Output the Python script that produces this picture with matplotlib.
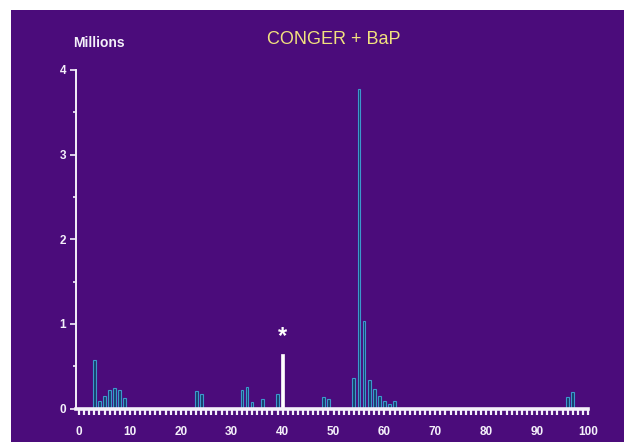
import matplotlib
matplotlib.use("Agg")
import matplotlib.pyplot as plt
from matplotlib.patches import Rectangle
from matplotlib.ticker import MultipleLocator

# Ion abundance (millions) against scan position
positions = [3, 4, 5, 6, 7, 8, 9, 23, 24, 32, 33, 34, 36, 39, 48, 49,
             54, 55, 56, 57, 58, 59, 60, 61, 62, 96, 97]
values = [0.57, 0.09, 0.15, 0.22, 0.24, 0.22, 0.12, 0.21, 0.17, 0.22, 0.25,
          0.08, 0.11, 0.17, 0.13, 0.11, 0.36, 3.77, 1.03, 0.34, 0.23, 0.15,
          0.09, 0.05, 0.09, 0.13, 0.19]
marked_position = 40
marked_value = 0.64

title = "CONGER + BaP"
y_unit = "Millions"
x_ticks = list(range(0, 101, 10))
y_ticks = [0, 1, 2, 3, 4]

W, H = 624, 442
BG = "#4b0c7b"
FG = "#f4f0fa"

plt.rcParams["font.family"] = ["Liberation Sans", "DejaVu Sans"]
fig = plt.figure(figsize=(W / 100, H / 100), dpi=100)
fig.patch.set_facecolor(BG)

# white margin along the top and left edges of the slide
fig.add_artist(Rectangle((0, 1 - 10 / H), 1, 10 / H, transform=fig.transFigure,
                         facecolor="white", edgecolor="none", zorder=0))
fig.add_artist(Rectangle((0, 0), 11 / W, 1, transform=fig.transFigure,
                         facecolor="white", edgecolor="none", zorder=0))

left_px, right_px = 76, 588
bottom_px, top_px = 408.5, 70
ax = fig.add_axes([left_px / W, (H - bottom_px) / H,
                   (right_px - left_px) / W, (bottom_px - top_px) / H])
ax.set_facecolor("none")
ax.set_xlim(-0.6, 100)
ax.set_ylim(0, 4)

ax.bar(positions, values, width=0.55, color="#163f6a", edgecolor="#3c98cc",
       linewidth=0.8, zorder=3)
ax.bar([marked_position], [marked_value], width=0.45, color="white",
       edgecolor="white", linewidth=0.5, zorder=3)
ax.text(marked_position, marked_value + 0.08, "*", color="white",
        ha="center", va="bottom", fontsize=17, fontweight="bold")

for side in ("top", "right"):
    ax.spines[side].set_visible(False)
ax.spines["left"].set_color(FG)
ax.spines["left"].set_linewidth(1.4)
ax.spines["left"].set_bounds(0, 4)
ax.spines["bottom"].set_color(FG)
ax.spines["bottom"].set_linewidth(2.6)
ax.spines["bottom"].set_zorder(4)

ax.set_xticks(x_ticks)
ax.set_xticklabels([str(t) for t in x_ticks])
ax.xaxis.set_minor_locator(MultipleLocator(1))
ax.tick_params(axis="x", which="both", direction="out", length=4.5,
               width=1.6, color=FG, labelcolor=FG, labelsize=8.5, pad=8)

ax.set_yticks(y_ticks)
ax.set_yticklabels([str(t) for t in y_ticks])
ax.yaxis.set_minor_locator(MultipleLocator(0.5))
ax.tick_params(axis="y", which="major", direction="out", length=4,
               width=1.2, color=FG, labelcolor=FG, labelsize=8.5, pad=3)
ax.tick_params(axis="y", which="minor", direction="out", length=2,
               width=1.2, color=FG)
for lbl in ax.get_xticklabels() + ax.get_yticklabels():
    lbl.set_fontweight("bold")

fig.text(99 / W, 1 - 43 / H, y_unit, color=FG, fontsize=10,
         fontweight="bold", ha="center", va="center")
fig.text(334 / W, 1 - 39 / H, title, color="#f2e27e", fontsize=13,
         ha="center", va="center")

fig.savefig("out.png", dpi=100, facecolor=fig.get_facecolor())
